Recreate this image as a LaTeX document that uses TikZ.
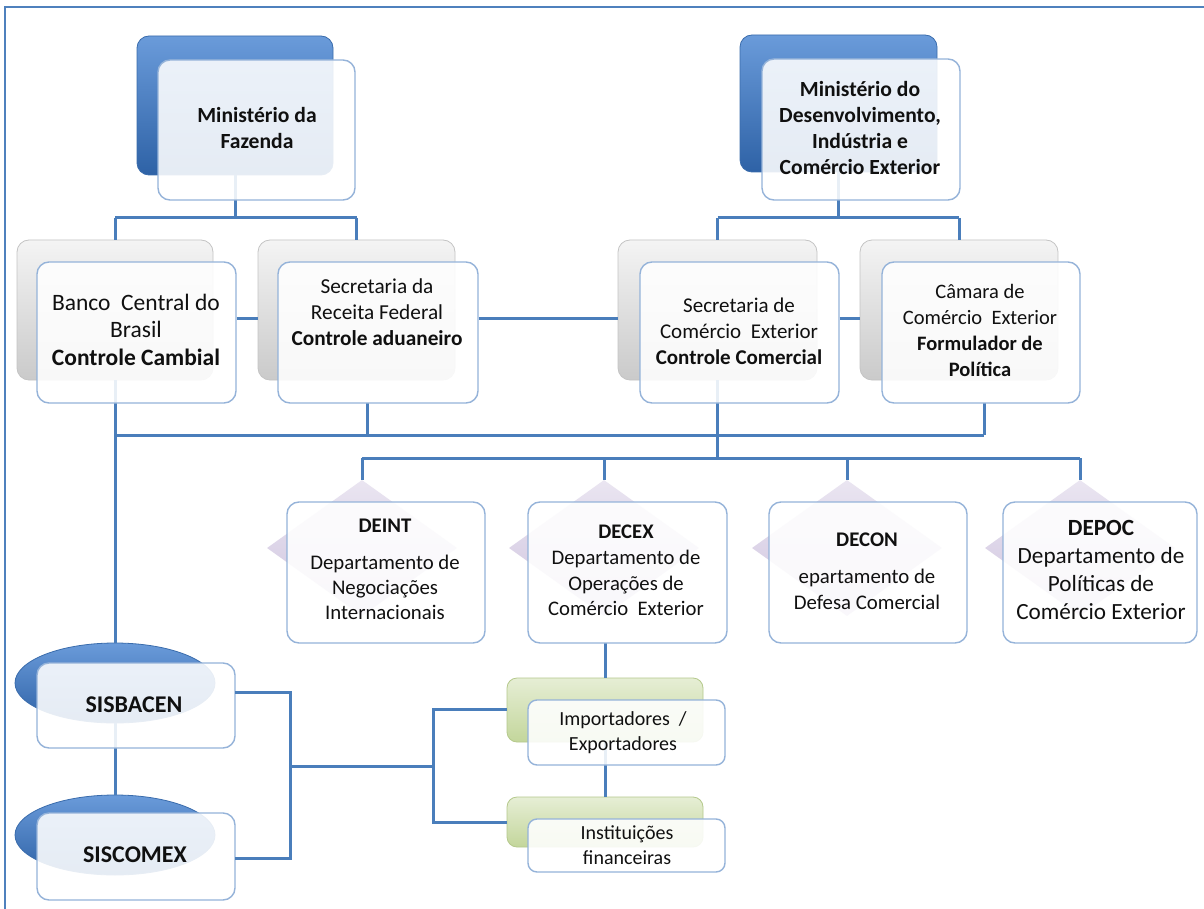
\documentclass[tikz,border=0pt]{standalone}
\usepackage{fontspec}
\setmainfont{Carlito}
\usetikzlibrary{shapes.geometric}
\definecolor{lineblue}{HTML}{4A7EBB}
\definecolor{frameblue}{HTML}{4F81BD}
\definecolor{blueTop}{HTML}{6A9BDA}
\definecolor{blueBot}{HTML}{2E62A6}
\definecolor{blueEdge}{HTML}{3A6CAC}
\definecolor{grayTop}{HTML}{F4F4F4}
\definecolor{grayBot}{HTML}{CACACA}
\definecolor{grayEdge}{HTML}{C4C4C4}
\definecolor{greenTop}{HTML}{E6EED5}
\definecolor{greenBot}{HTML}{C3D69B}
\definecolor{greenEdge}{HTML}{B5C98C}
\definecolor{lavTop}{HTML}{EAE5F1}
\definecolor{lavBot}{HTML}{CFC4DF}
\definecolor{frontEdge}{HTML}{95B3D9}
\definecolor{textc}{HTML}{101010}
\tikzset{
  conn/.style={draw=lineblue, line width=3pt},
  blueback/.style={rectangle, rounded corners=12pt, top color=blueTop, bottom color=blueBot, draw=blueEdge, line width=0.8pt, inner sep=0pt},
  grayback/.style={rectangle, rounded corners=12pt, top color=grayTop, bottom color=grayBot, draw=grayEdge, line width=0.8pt, inner sep=0pt},
  greenback/.style={rectangle, rounded corners=10pt, top color=greenTop, bottom color=greenBot, draw=greenEdge, line width=0.8pt, inner sep=0pt},
  frontbox/.style={rectangle, rounded corners=12pt, fill=white, fill opacity=0.88, draw=frontEdge, draw opacity=1, line width=1.4pt, inner sep=0pt},
  ovalback/.style={ellipse, top color=blueTop, bottom color=blueBot, draw=blueEdge, line width=0.8pt, inner sep=0pt},
  diaback/.style={diamond, top color=lavTop, bottom color=lavBot, draw=none, inner sep=0pt},
  txt/.style={align=center, text=textc, inner sep=0pt, font=\fontsize{21}{26}\selectfont},
  txtb/.style={txt, font=\fontsize{21.6}{26}\selectfont\bfseries},
  txtsm/.style={align=center, text=textc, inner sep=0pt, font=\fontsize{20}{25}\selectfont},
}
\begin{document}
\begin{tikzpicture}[x=1pt,y=-1pt]
\useasboundingbox (0,0) rectangle (1204,909);
\fill[white] (0,0) rectangle (1204,909);
% frame
\draw[frameblue, line width=2.5pt] (5,909) -- (5,7) -- (1204,7);

% ---------- back shapes ----------
\node[blueback, minimum width=196pt, minimum height=139pt] (mfback) at (235,105.5) {};
\node[blueback, minimum width=197pt, minimum height=137pt] (mdback) at (838.5,103.5) {};
\node[grayback, minimum width=196pt, minimum height=140pt] (bcback) at (115,310) {};
\node[grayback, minimum width=197pt, minimum height=140pt] (srfback) at (356.5,310) {};
\node[grayback, minimum width=199pt, minimum height=140pt] (secexback) at (717.5,310) {};
\node[grayback, minimum width=198pt, minimum height=140pt] (camback) at (959,310) {};
\node[diaback, minimum width=190pt, minimum height=136pt] (deintdia) at (362,548) {};
\node[diaback, minimum width=190pt, minimum height=136pt] (decexdia) at (604,548) {};
\node[diaback, minimum width=190pt, minimum height=136pt] (decondia) at (847,548) {};
\node[diaback, minimum width=190pt, minimum height=136pt] (depocdia) at (1080,548) {};
\node[ovalback, minimum width=200pt, minimum height=80pt] (sbov) at (115,683) {};
\node[ovalback, minimum width=200pt, minimum height=80pt] (scov) at (115,835) {};
\node[greenback, minimum width=196pt, minimum height=64pt] (impback) at (605,710) {};
\node[greenback, minimum width=196pt, minimum height=50pt] (instback) at (605,822) {};

% ---------- connector coordinates ----------
\coordinate (ytop) at (0,218);
\coordinate (yr2) at (0,318);
\coordinate (ybar) at (0,435);
\coordinate (ydept) at (0,458);
\coordinate (xbr) at (290,0);
\coordinate (xbr2) at (433,0);

% ---------- connectors ----------
\draw[conn] (mfback.south) -- (mfback.south |- ytop);
\draw[conn] (bcback.north |- ytop) -- (srfback.north |- ytop);
\draw[conn] (bcback.north |- ytop) -- (bcback.north);
\draw[conn] (srfback.north |- ytop) -- (srfback.north);
\draw[conn] (mdback.south) -- (mdback.south |- ytop);
\draw[conn] (secexback.north |- ytop) -- (camback.north |- ytop);
\draw[conn] (secexback.north |- ytop) -- (secexback.north);
\draw[conn] (camback.north |- ytop) -- (camback.north);

\coordinate (srfdown) at (367,403);
\coordinate (camdown) at (984,403);
\draw[conn] (bcback.south) -- (sbov.north);
\draw[conn] (bcback.south |- ybar) -- (camdown |- ybar);
\draw[conn] (srfdown) -- (srfdown |- ybar);
\draw[conn] (camdown) -- (camdown |- ybar);
\draw[conn] (secexback.south) -- (secexback.south |- ydept);
\draw[conn] (deintdia.north |- ydept) -- (depocdia.north |- ydept);
\draw[conn] (deintdia.north |- ydept) -- (deintdia.north);
\draw[conn] (decexdia.north |- ydept) -- (decexdia.north);
\draw[conn] (decondia.north |- ydept) -- (decondia.north);
\draw[conn] (depocdia.north |- ydept) -- (depocdia.north);

\draw[conn] (sbov.south) -- (scov.north);
\draw[conn] (impback.north |- 0,643) -- (impback.north);
\draw[conn] (impback.south) -- (instback.north);

% ---------- front boxes ----------
\node[frontbox, minimum width=197pt, minimum height=140pt] (mf) at (256.5,130) {};
\node[frontbox, minimum width=198pt, minimum height=141pt] (md) at (861,129.5) {};
\node[frontbox, minimum width=199pt, minimum height=141pt] (bc) at (136.5,332.5) {};
\node[frontbox, minimum width=200pt, minimum height=141pt] (srf) at (378,332.5) {};
\node[frontbox, minimum width=199pt, minimum height=141pt] (secex) at (739.5,332.5) {};
\node[frontbox, minimum width=198pt, minimum height=141pt] (cam) at (981,332.5) {};
\node[frontbox, minimum width=198pt, minimum height=141pt] (deint) at (386,572.5) {};
\node[frontbox, minimum width=199pt, minimum height=141pt] (decex) at (627.5,572.5) {};
\node[frontbox, minimum width=198pt, minimum height=141pt] (decon) at (868,572.5) {};
\node[frontbox, minimum width=194pt, minimum height=141pt] (depoc) at (1100,572.5) {};
\node[frontbox, minimum width=198pt, minimum height=85pt] (sisbacen) at (136,705.5) {};
\node[frontbox, minimum width=198pt, minimum height=87pt] (siscomex) at (136,856.5) {};
\node[frontbox, rounded corners=9pt, minimum width=197pt, minimum height=65pt] (imp) at (626.5,732.5) {};
\node[frontbox, rounded corners=9pt, minimum width=197pt, minimum height=53pt] (inst) at (626.5,845.5) {};

% connectors between front boxes
\draw[conn] (bc.east |- yr2) -- (srfback.west |- yr2);
\draw[conn] (srf.east |- yr2) -- (secexback.west |- yr2);
\draw[conn] (secex.east |- yr2) -- (camback.west |- yr2);
\coordinate (sbR) at (235,692);
\coordinate (scR) at (235,858);
\draw[conn] (sbR) -- (xbr |- sbR) -- (xbr |- scR) -- (scR);
\draw[conn] (xbr |- 0,766) -- (xbr2 |- 0,766);
\draw[conn] (impback.west |- 0,709) -- (xbr2 |- 0,709) -- (xbr2 |- 0,822) -- (instback.west |- 0,822);

% ---------- texts ----------
\node[txtb] (mft) at (257,128) {Ministério da\\Fazenda};
\node[txtb] (mdt) at (860,128) {Ministério do\\Desenvolvimento,\\Indústria e\\Comércio Exterior};
\node[txt, font=\fontsize{23.5}{27.5}\selectfont] (bct) at (136,329.5) {Banco\ \ Central do\\Brasil\\\textbf{Controle Cambial}};
\node[txt, font=\fontsize{21.3}{26}\selectfont] (srft) at (377,312) {Secretaria da\\Receita Federal\\\textbf{Controle aduaneiro}};
\node[txt, font=\fontsize{21}{26}\selectfont] (secext) at (739,331) {Secretaria de\\Comércio\ \ Exterior\\\textbf{Controle Comercial}};
\node[txt, font=\fontsize{20.5}{25.7}\selectfont] (camt) at (980,330.5) {Câmara de\\Comércio\ \ Exterior\\\textbf{Formulador de}\\\textbf{Política}};
\node[txt, font=\fontsize{20.8}{25}\selectfont] (deintt) at (385,569) {\textbf{DEINT}\\[12pt]Departamento de\\Negociações\\Internacionais};
\node[txt, font=\fontsize{20.7}{25.7}\selectfont] (decext) at (626,570.5) {\textbf{DECEX}\\Departamento de\\Operações de\\Comércio\ \ Exterior};
\node[txt, font=\fontsize{20.8}{26}\selectfont] (decont) at (867,571.5) {\textbf{DECON}\\[11pt]epartamento de\\Defesa Comercial};
\node[txt, font=\fontsize{23.2}{28}\selectfont] (depoct) at (1101,570) {\textbf{DEPOC}\\Departamento de\\Políticas de\\Comércio Exterior};
\node[txtb, font=\fontsize{24}{26}\selectfont\bfseries] (sbt) at (134,705) {SISBACEN};
\node[txtb, font=\fontsize{24}{26}\selectfont\bfseries] (sct) at (135,855) {SISCOMEX};
\node[txtsm] (impt) at (623,732.5) {Importadores\ \ /\\Exportadores};
\node[txtsm] (instt) at (627,845.5) {Instituições\\financeiras};
\end{tikzpicture}
\end{document}
